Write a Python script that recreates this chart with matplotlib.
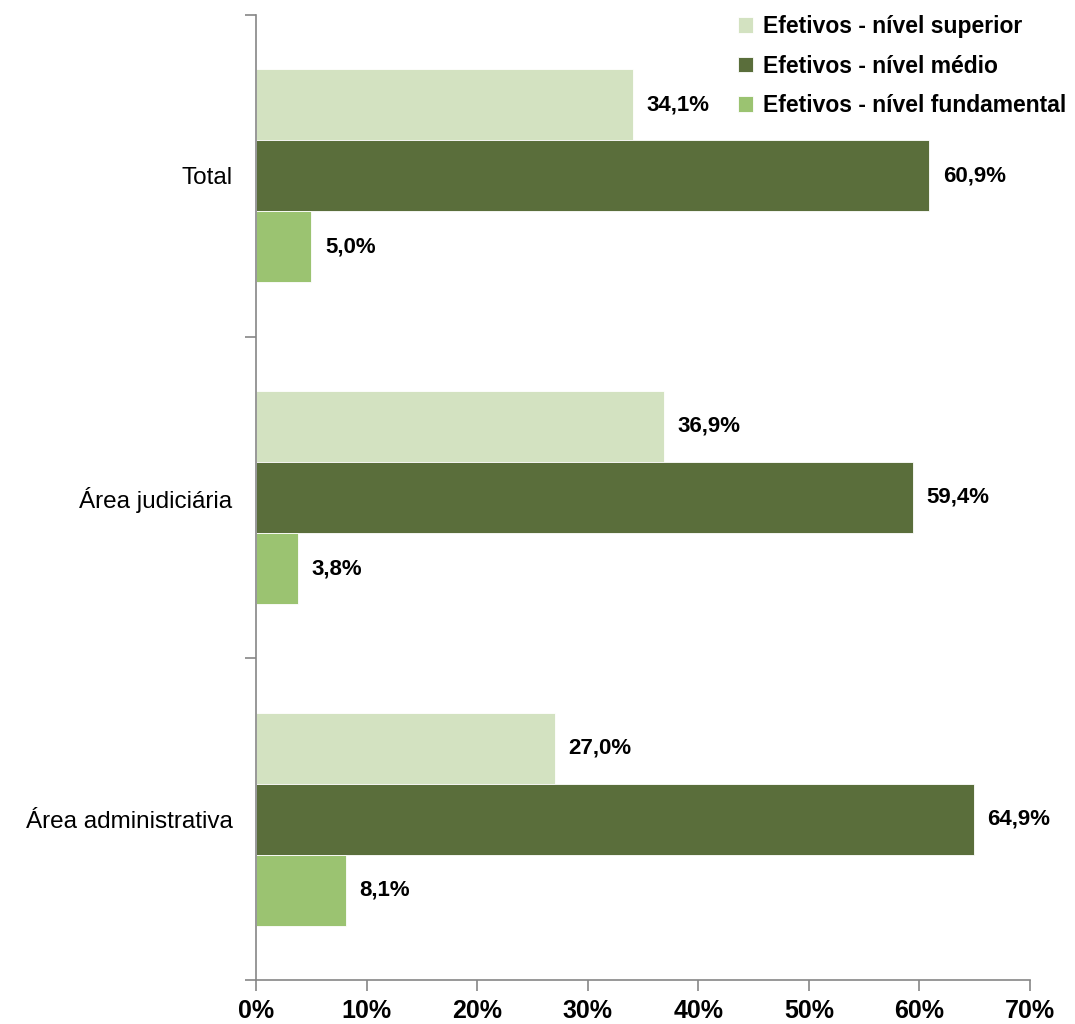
import matplotlib
matplotlib.use("Agg")
import matplotlib.pyplot as plt
import matplotlib.ticker as ticker
import numpy as np

plt.rcParams['font.family'] = ['Liberation Sans', 'DejaVu Sans']

categories = ["Total", "Área judiciária", "Área administrativa"]
series_names = ["Efetivos - nível superior", "Efetivos - nível médio", "Efetivos - nível fundamental"]
superior = [34.1, 36.9, 27.0]
medio = [60.9, 59.4, 64.9]
fundamental = [5.0, 3.8, 8.1]
colors = ["#D3E2C1", "#5A6E3B", "#9BC371"]

fig = plt.figure(figsize=(10.75, 10.24), dpi=100)
ax = fig.add_axes([256/1075, 1-980/1024, (1030-256)/1075, (980-15)/1024])

y = np.arange(len(categories))[::-1].astype(float)
h = 0.221
offsets = [h, 0, -h]
for vals, off, col, name in zip([superior, medio, fundamental], offsets, colors, series_names):
    bars = ax.barh(y + off, vals, height=h, color=col, label=name, edgecolor="white", linewidth=0.6)
    for b, v in zip(bars, vals):
        ax.text(b.get_width() + 1.25, b.get_y() + b.get_height()/2,
                ("%.1f%%" % v).replace(".", ","), va="center", ha="left",
                fontsize=16, fontweight="bold", color="black")

ax.set_xlim(0, 70)
ax.set_ylim(-0.5, 2.5)
ax.xaxis.set_major_locator(ticker.MultipleLocator(10))
ax.xaxis.set_major_formatter(ticker.FuncFormatter(lambda x, p: "%d%%" % round(x)))
ax.set_yticks(y)
ax.set_yticklabels(categories, fontsize=17.5)
ax.set_yticks([-0.5, 0.5, 1.5, 2.5], minor=True)
ax.tick_params(axis="y", which="major", length=0, pad=17)
ax.tick_params(axis="y", which="minor", length=8, color="#868686", width=1.2)
ax.tick_params(axis="x", length=8, color="#868686", width=1.2, pad=6)
for lab in ax.get_xticklabels():
    lab.set_fontweight("bold")
    lab.set_fontsize(18)
for s in ["top", "right"]:
    ax.spines[s].set_visible(False)
for s in ["left", "bottom"]:
    ax.spines[s].set_color("#868686")
    ax.spines[s].set_linewidth(1.2)

ax.legend(loc="upper left", bbox_to_anchor=(729/1075, 1-6/1024), bbox_transform=fig.transFigure,
          frameon=False, prop={"weight": "bold", "size": 16.5}, handlelength=0.65, handleheight=0.65,
          handletextpad=0.45, labelspacing=0.72, borderaxespad=0)

fig.savefig("out.png", dpi=100)
